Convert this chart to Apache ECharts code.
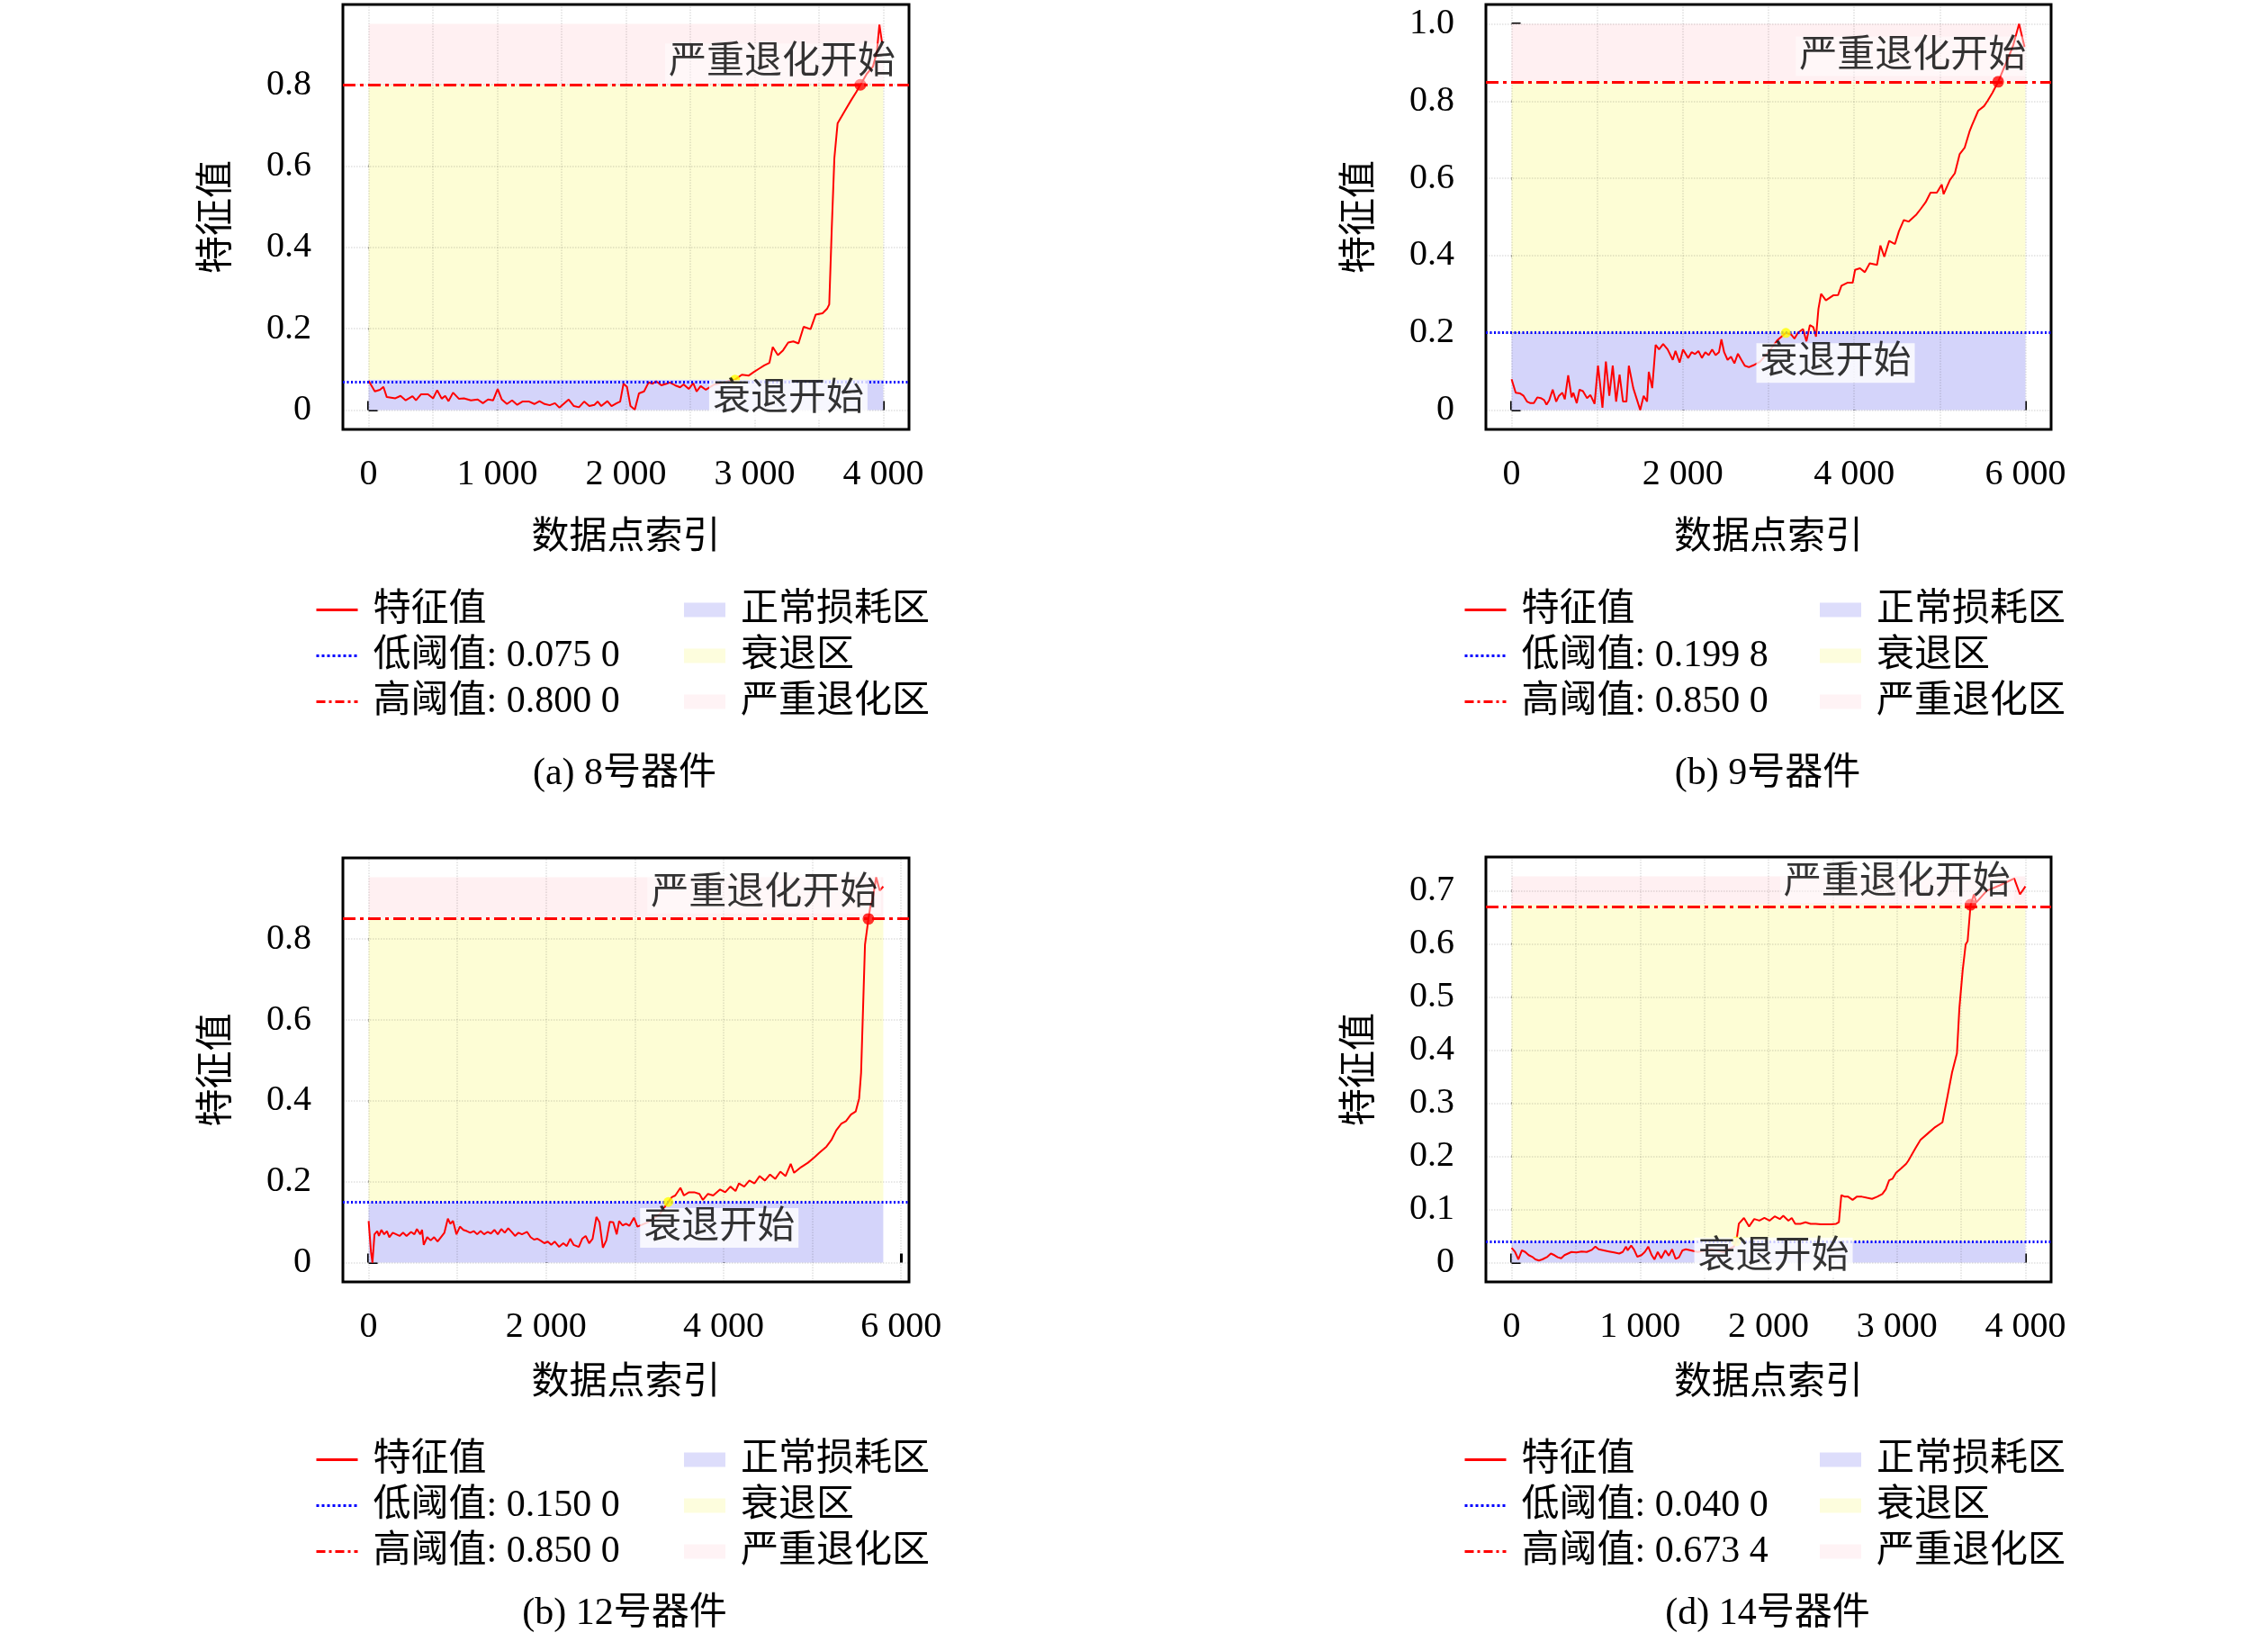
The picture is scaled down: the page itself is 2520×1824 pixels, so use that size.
<!DOCTYPE html>
<html>
<head>
<meta charset="utf-8">
<script src="https://cdn.jsdelivr.net/npm/echarts@6/dist/echarts.min.js"></script>
<style>
html, body { margin: 0; padding: 0; background: #fff; }
#chart { width: 2520px; height: 1824px; }
</style>
</head>
<body>
<div id="chart"></div>
<script>
// ---- data, [index, feature value] ----
const seriesA = [[0,0.072],[48,0.046],[88,0.050],[115,0.057],[141,0.032],[208,0.029],[248,0.035],[288,0.024],[341,0.034],[368,0.024],[408,0.039],[461,0.039],[501,0.029],[533,0.049],[568,0.028],[595,0.035],[621,0.022],[656,0.043],[701,0.028],[741,0.029],[795,0.024],[848,0.026],[888,0.017],[928,0.026],[968,0.024],[1003,0.052],[1035,0.026],[1075,0.015],[1115,0.024],[1155,0.013],[1195,0.021],[1248,0.021],[1288,0.015],[1328,0.022],[1368,0.015],[1408,0.012],[1448,0.017],[1483,0.006],[1515,0.015],[1555,0.026],[1595,0.010],[1635,0.007],[1675,0.021],[1715,0.010],[1755,0.013],[1781,0.021],[1808,0.010],[1856,0.022],[1888,0.010],[1928,0.017],[1955,0.021],[1981,0.065],[2008,0.057],[2035,0.010],[2069,0.001],[2101,0.041],[2141,0.046],[2176,0.068],[2208,0.065],[2235,0.071],[2275,0.061],[2315,0.065],[2341,0.068],[2381,0.061],[2421,0.056],[2448,0.063],[2488,0.052],[2523,0.066],[2549,0.046],[2581,0.059],[2621,0.050],[2680,0.062],[2760,0.068],[2848,0.075],[2901,0.087],[2955,0.085],[2995,0.094],[3035,0.102],[3075,0.110],[3115,0.116],[3141,0.155],[3181,0.135],[3221,0.147],[3261,0.166],[3301,0.169],[3341,0.164],[3381,0.205],[3435,0.199],[3475,0.235],[3528,0.238],[3563,0.249],[3580,0.26],[3600,0.45],[3620,0.62],[3645,0.705],[3700,0.735],[3750,0.762],[3790,0.782],[3822,0.800],[3870,0.826],[3920,0.845],[3950,0.88],[3970,0.948],[3990,0.905]];

const seriesB = [[0,0.080],[20,0.076],[48,0.045],[100,0.043],[140,0.037],[180,0.022],[220,0.018],[260,0.018],[300,0.033],[340,0.031],[380,0.026],[408,0.014],[440,0.026],[480,0.053],[521,0.022],[553,0.037],[593,0.045],[621,0.028],[661,0.090],[701,0.033],[721,0.045],[761,0.018],[793,0.053],[833,0.049],[881,0.031],[921,0.039],[969,0.016],[1009,0.115],[1033,0.068],[1061,0.006],[1101,0.126],[1141,0.037],[1181,0.115],[1221,0.022],[1261,0.092],[1301,0.022],[1341,0.022],[1369,0.115],[1421,0.057],[1461,0.029],[1502,0.0],[1542,0.037],[1582,0.022],[1602,0.099],[1642,0.057],[1682,0.169],[1722,0.157],[1770,0.171],[1822,0.157],[1882,0.130],[1914,0.153],[1962,0.123],[2002,0.157],[2062,0.135],[2102,0.150],[2142,0.145],[2182,0.153],[2222,0.135],[2262,0.150],[2302,0.142],[2342,0.157],[2382,0.142],[2422,0.150],[2450,0.183],[2482,0.150],[2522,0.130],[2562,0.138],[2602,0.121],[2643,0.146],[2683,0.130],[2723,0.115],[2771,0.111],[2823,0.116],[2900,0.125],[3000,0.15],[3100,0.18],[3203,0.200],[3263,0.196],[3303,0.185],[3343,0.200],[3403,0.21],[3443,0.178],[3483,0.220],[3523,0.215],[3555,0.19],[3583,0.262],[3614,0.301],[3670,0.284],[3756,0.297],[3813,0.298],[3852,0.322],[3926,0.330],[3983,0.330],[4011,0.363],[4068,0.367],[4125,0.357],[4182,0.380],[4267,0.376],[4307,0.426],[4352,0.397],[4409,0.438],[4477,0.430],[4523,0.463],[4580,0.492],[4636,0.488],[4722,0.505],[4778,0.521],[4835,0.538],[4892,0.563],[4966,0.563],[5023,0.584],[5045,0.559],[5119,0.596],[5176,0.613],[5233,0.663],[5290,0.679],[5347,0.721],[5375,0.737],[5449,0.775],[5517,0.787],[5557,0.800],[5614,0.821],[5682,0.850],[5744,0.883],[5801,0.912],[5858,0.945],[5926,1.0],[5990,0.94]];

const seriesC = [[0,0.103],[27,0.026],[43,0.0],[66,0.070],[97,0.078],[116,0.066],[144,0.081],[175,0.070],[206,0.078],[233,0.063],[272,0.074],[311,0.070],[349,0.066],[388,0.074],[427,0.066],[478,0.076],[516,0.070],[544,0.083],[582,0.070],[602,0.081],[621,0.044],[660,0.063],[699,0.055],[738,0.063],[777,0.052],[815,0.063],[854,0.074],[893,0.109],[920,0.096],[951,0.103],[990,0.070],[1029,0.089],[1068,0.081],[1107,0.078],[1145,0.074],[1184,0.078],[1223,0.070],[1262,0.078],[1301,0.070],[1340,0.076],[1378,0.072],[1417,0.081],[1456,0.070],[1495,0.083],[1534,0.074],[1573,0.085],[1611,0.076],[1650,0.066],[1689,0.074],[1728,0.070],[1786,0.076],[1825,0.063],[1864,0.057],[1903,0.059],[1942,0.054],[1980,0.048],[2019,0.052],[2058,0.044],[2097,0.052],[2147,0.039],[2194,0.048],[2233,0.041],[2272,0.059],[2310,0.044],[2369,0.039],[2407,0.059],[2446,0.066],[2485,0.048],[2524,0.059],[2567,0.113],[2602,0.100],[2640,0.037],[2679,0.055],[2718,0.101],[2757,0.100],[2796,0.070],[2823,0.103],[2862,0.092],[2901,0.096],[2939,0.091],[2990,0.111],[3029,0.089],[3150,0.10],[3280,0.12],[3378,0.15],[3417,0.162],[3456,0.166],[3514,0.185],[3553,0.166],[3611,0.174],[3670,0.174],[3728,0.170],[3767,0.155],[3825,0.170],[3883,0.166],[3961,0.181],[4019,0.174],[4077,0.188],[4135,0.177],[4174,0.196],[4233,0.188],[4291,0.203],[4349,0.196],[4407,0.214],[4466,0.203],[4524,0.218],[4582,0.207],[4640,0.225],[4699,0.214],[4757,0.244],[4795,0.222],[4873,0.236],[4951,0.247],[5022,0.26],[5077,0.271],[5160,0.287],[5215,0.303],[5270,0.327],[5325,0.343],[5380,0.350],[5435,0.366],[5490,0.374],[5528,0.406],[5550,0.469],[5572,0.627],[5594,0.786],[5633,0.850],[5655,0.881],[5682,0.90],[5720,0.953],[5760,0.92],[5800,0.93]];

const seriesD = [[0,0.028],[27,0.020],[53,0.006],[80,0.023],[106,0.020],[133,0.014],[160,0.011],[186,0.006],[213,0.004],[239,0.006],[279,0.011],[306,0.017],[333,0.014],[359,0.010],[386,0.008],[412,0.014],[439,0.017],[466,0.020],[505,0.019],[545,0.021],[585,0.020],[625,0.024],[652,0.030],[678,0.025],[718,0.023],[758,0.021],[798,0.019],[838,0.017],[865,0.020],[891,0.030],[904,0.023],[931,0.032],[952,0.025],[979,0.011],[1011,0.014],[1037,0.020],[1064,0.030],[1091,0.014],[1112,0.006],[1138,0.020],[1165,0.008],[1197,0.023],[1224,0.013],[1250,0.025],[1277,0.007],[1303,0.010],[1330,0.023],[1357,0.025],[1450,0.02],[1550,0.025],[1650,0.02],[1730,0.03],[1750,0.04],[1769,0.073],[1809,0.084],[1849,0.068],[1889,0.082],[1929,0.079],[1968,0.084],[2008,0.079],[2048,0.087],[2088,0.082],[2115,0.088],[2155,0.079],[2181,0.084],[2208,0.073],[2248,0.073],[2288,0.076],[2328,0.073],[2367,0.073],[2407,0.072],[2447,0.072],[2487,0.072],[2527,0.073],[2548,0.076],[2567,0.127],[2594,0.124],[2620,0.124],[2655,0.118],[2687,0.124],[2727,0.124],[2766,0.122],[2806,0.120],[2846,0.124],[2886,0.129],[2913,0.138],[2939,0.155],[2966,0.158],[2993,0.169],[3032,0.177],[3072,0.186],[3089,0.192],[3146,0.216],[3183,0.231],[3240,0.243],[3297,0.255],[3354,0.264],[3391,0.310],[3429,0.358],[3467,0.394],[3486,0.479],[3512,0.551],[3535,0.599],[3550,0.605],[3573,0.673],[3599,0.693],[3618,0.678],[3700,0.70],[3800,0.71],[3913,0.723],[3958,0.693],[4000,0.708]];

// thresholds, zone extents, event points
const lows = [0.075, 0.1998, 0.15, 0.04];
const highs = [0.8, 0.85, 0.85, 0.6734];
const peaks = [0.95, 1.0, 0.953, 0.727];
const zoneEnds = [4000, 6000, 5800, 4000];
const lowNames = ['低阈值: 0.075 0', '低阈值: 0.199 8', '低阈值: 0.150 0', '低阈值: 0.040 0'];
const highNames = ['高阈值: 0.800 0', '高阈值: 0.850 0', '高阈值: 0.850 0', '高阈值: 0.673 4'];
const declinePoints = [[2848, 0.075], [3203, 0.1998], [3378, 0.15], [1750, 0.04]];
const severePoints = [[3822, 0.8], [5682, 0.85], [5633, 0.85], [3573, 0.6734]];
const captions = ['(a) 8号器件', '(b) 9号器件', '(b) 12号器件', '(d) 14号器件'];

// tick labels and grid lines
const xTicks = [[0, 1000, 2000, 3000, 4000], [0, 2000, 4000, 6000], [0, 2000, 4000, 6000], [0, 1000, 2000, 3000, 4000]];
const xGrid = [[0, 500, 1000, 1500, 2000, 2500, 3000, 3500, 4000], [0, 1000, 2000, 3000, 4000, 5000, 6000], [0, 1000, 2000, 3000, 4000, 5000, 6000], [0, 500, 1000, 1500, 2000, 2500, 3000, 3500, 4000]];
const yTicks = [[0, 0.2, 0.4, 0.6, 0.8], [0, 0.2, 0.4, 0.6, 0.8, 1.0], [0, 0.2, 0.4, 0.6, 0.8], [0, 0.1, 0.2, 0.3, 0.4, 0.5, 0.6, 0.7]];

const zoneNames = ['正常损耗区', '衰退区', '严重退化区'];

// annotation anchors (data coordinates)
const declineLabelAt = [[3262, 0.025], [3783, 0.122], [3952, 0.086], [2039, 0.0098]];
const severeLabelAt = [[3213, 0.853], [4684, 0.916], [4459, 0.912], [3001, 0.714]];

const allSeries = [seriesA, seriesB, seriesC, seriesD];

// ---- layout ----
const FONT = '"Liberation Serif", "Noto Sans CJK SC", serif';
const ZONE_COLORS = ['#d4d4fa', '#fdfdd5', '#fff0f2'];
const layouts = [
  { grid: { left: 381, top: 5, width: 629, height: 472 }, xNameGap: 100, leg1: 350, leg2: 760, legTop: 652, cap: [694, 860] },
  { grid: { left: 1651, top: 5, width: 628, height: 472 }, xNameGap: 100, leg1: 1626, leg2: 2022, legTop: 652, cap: [1964, 860] },
  { grid: { left: 381, top: 953, width: 629, height: 471 }, xNameGap: 92, leg1: 350, leg2: 760, legTop: 1596, cap: [694, 1793] },
  { grid: { left: 1651, top: 952, width: 628, height: 472 }, xNameGap: 92, leg1: 1626, leg2: 2022, legTop: 1596, cap: [1964, 1793] }
];

function fmtX(v) {
  if (v === 0) return '0';
  const s = String(Math.round(v));
  return s.slice(0, -3) + ' ' + s.slice(-3);
}
function fmtY(v) {
  return v === 0 ? '0' : v.toFixed(1);
}

const grids = [], xAxes = [], yAxes = [], series = [], legends = [], graphics = [];

layouts.forEach(function (L, i) {
  const end = zoneEnds[i], peak = peaks[i], low = lows[i], high = highs[i];
  grids.push(Object.assign({ show: true, borderColor: '#000', borderWidth: 3, backgroundColor: 'transparent' }, L.grid));

  xAxes.push({
    gridIndex: i, type: 'value', min: -0.05 * end, max: 1.05 * end,
    name: '数据点索引', nameLocation: 'middle', nameGap: L.xNameGap,
    nameTextStyle: { fontFamily: FONT, fontSize: 42, color: '#000' },
    axisLine: { show: false },
    axisTick: { show: true, inside: true, length: 10, customValues: xTicks[i], lineStyle: { color: '#000', width: 3 } },
    axisLabel: { customValues: xTicks[i], formatter: fmtX, margin: 30, fontFamily: FONT, fontSize: 40, color: '#000' },
    splitLine: { show: false }
  });
  yAxes.push({
    gridIndex: i, type: 'value', min: -0.05 * peak, max: 1.05 * peak,
    name: '特征值', nameLocation: 'middle', nameGap: 118, nameRotate: 90,
    nameTextStyle: { fontFamily: FONT, fontSize: 42, color: '#000' },
    axisLine: { show: false },
    axisTick: { show: true, inside: true, length: 10, customValues: yTicks[i], lineStyle: { color: '#000', width: 3 } },
    axisLabel: { customValues: yTicks[i], formatter: fmtY, margin: 35, fontFamily: FONT, fontSize: 40, color: '#000' },
    splitLine: { show: false }
  });

  const zoneBounds = [[0, low], [low, high], [high, peak]];
  zoneBounds.forEach(function (b, k) {
    series.push({
      name: zoneNames[k], type: 'scatter', xAxisIndex: i, yAxisIndex: i, data: [],
      itemStyle: { color: ZONE_COLORS[k] },
      markArea: {
        silent: true, z: 1, itemStyle: { color: ZONE_COLORS[k], opacity: 1 },
        data: [[{ xAxis: 0, yAxis: b[0] }, { xAxis: end, yAxis: b[1] }]]
      }
    });
  });

  // faint grid lines
  series.push({
    name: 'grid' + i, type: 'line', xAxisIndex: i, yAxisIndex: i, data: [], silent: true,
    markLine: {
      silent: true, z: 1.5, symbol: ['none', 'none'], label: { show: false },
      lineStyle: { color: 'rgba(0,0,0,0.13)', width: 1.5, type: 'dotted' },
      data: xGrid[i].map(function (v) { return { xAxis: v }; })
        .concat(yTicks[i].map(function (v) { return { yAxis: v }; }))
    }
  });

  series.push({
    name: '特征值', type: 'line', xAxisIndex: i, yAxisIndex: i, z: 3,
    data: allSeries[i], showSymbol: false, symbol: 'none',
    lineStyle: { color: '#ff0000', width: 2 }, itemStyle: { color: '#ff0000' }
  });

  series.push({
    name: lowNames[i], type: 'line', xAxisIndex: i, yAxisIndex: i, data: [], symbol: 'none',
    lineStyle: { color: '#0000ff', width: 3, type: [3, 3] }, itemStyle: { color: '#0000ff' },
    markLine: {
      silent: true, z: 4, symbol: ['none', 'none'], label: { show: false },
      lineStyle: { color: '#0000ff', width: 3, type: [2, 2.5] },
      data: [{ yAxis: low }]
    }
  });
  series.push({
    name: highNames[i], type: 'line', xAxisIndex: i, yAxisIndex: i, data: [], symbol: 'none',
    lineStyle: { color: '#ff0000', width: 3, type: [10, 4, 3, 4] }, itemStyle: { color: '#ff0000' },
    markLine: {
      silent: true, z: 4, symbol: ['none', 'none'], label: { show: false },
      lineStyle: { color: '#ff0000', width: 3, type: [14, 5, 4, 5] },
      data: [{ yAxis: high }]
    }
  });

  series.push({
    name: 'decline' + i, type: 'scatter', xAxisIndex: i, yAxisIndex: i, z: 6,
    data: [declinePoints[i]], symbolSize: 11, itemStyle: { color: '#ffff00' }
  });
  series.push({
    name: 'severe' + i, type: 'scatter', xAxisIndex: i, yAxisIndex: i, z: 6,
    data: [severePoints[i]], symbolSize: 13, itemStyle: { color: '#ff0000' }
  });

  const labelBase = { show: true, position: 'inside', fontFamily: FONT, fontSize: 42, color: '#000', lineHeight: 44, padding: [0, 4] };
  series.push({
    name: 'labels' + i, type: 'scatter', xAxisIndex: i, yAxisIndex: i, z: 8, silent: true,
    symbolSize: 0.1, itemStyle: { color: 'rgba(0,0,0,0)' },
    data: [
      { value: declineLabelAt[i], label: Object.assign({}, labelBase, { formatter: '衰退开始', backgroundColor: '#ffffff' }) },
      { value: severeLabelAt[i], label: Object.assign({}, labelBase, { formatter: '严重退化开始', backgroundColor: 'rgba(255,255,255,0.55)' }) }
    ]
  });

  const legendText = { fontFamily: FONT, fontSize: 42, color: '#000', lineHeight: 51, padding: [0, 0, 0, 12] };
  legends.push({
    orient: 'vertical', left: L.leg1, top: L.legTop, padding: 0, itemGap: 0,
    itemWidth: 46, itemHeight: 16, selectedMode: false, textStyle: legendText,
    lineStyle: { width: 3 }, itemStyle: { opacity: 0 },
    data: ['特征值', lowNames[i], highNames[i]]
  });
  legends.push({
    orient: 'vertical', left: L.leg2, top: L.legTop, padding: 0, itemGap: 0,
    itemWidth: 46, itemHeight: 16, selectedMode: false, textStyle: legendText,
    data: zoneNames.map(function (n) { return { name: n, icon: 'rect' }; })
  });

  graphics.push({
    type: 'text', x: L.cap[0], y: L.cap[1],
    style: { text: captions[i], align: 'center', verticalAlign: 'middle', font: '42px ' + FONT, fill: '#000' }
  });
});

const chart = echarts.init(document.getElementById('chart'), null, { renderer: 'canvas' });
chart.setOption({
  animation: false,
  backgroundColor: '#fff',
  grid: grids,
  xAxis: xAxes,
  yAxis: yAxes,
  legend: legends,
  graphic: graphics,
  series: series
});
</script>
</body>
</html>
